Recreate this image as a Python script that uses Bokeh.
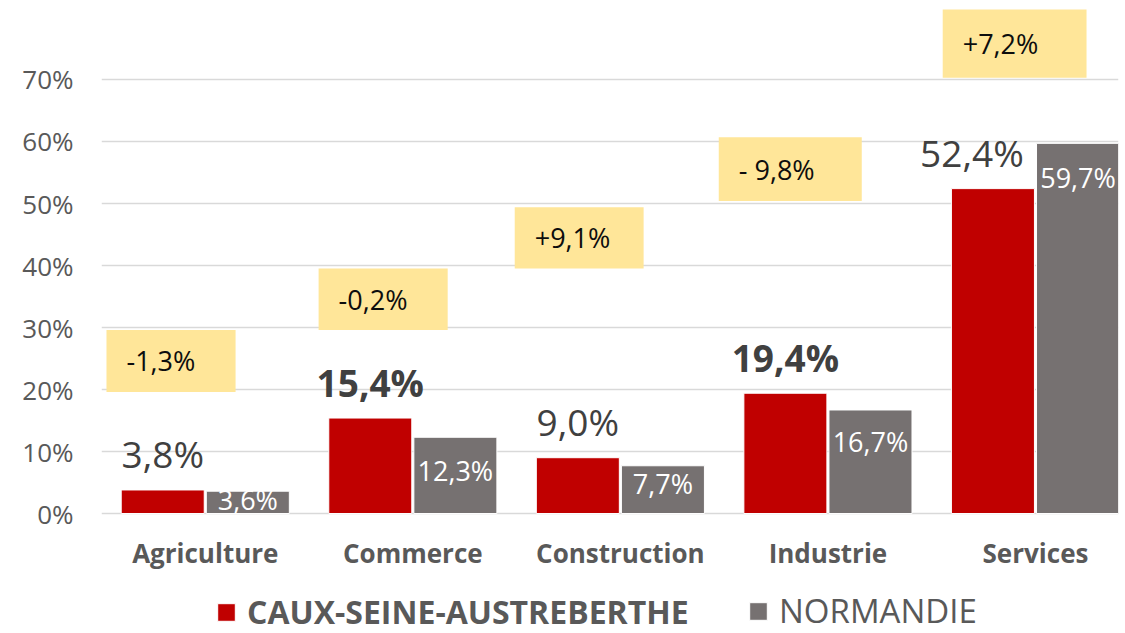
from bokeh.plotting import figure
from bokeh.models import (ColumnDataSource, FixedTicker, PrintfTickFormatter,
                          Legend, LegendItem, Range1d)
from bokeh.embed import file_html
from bokeh.resources import INLINE
from bokeh.core.properties import value

# ---------------- data ----------------
categories = ["Agriculture", "Commerce", "Construction", "Industrie", "Services"]
caux = [3.8, 15.4, 9.0, 19.4, 52.4]          # CAUX-SEINE-AUSTREBERTHE
normandie = [3.6, 12.3, 7.7, 16.7, 59.7]     # NORMANDIE
evolution = ["-1,3%", "-0,2%", "+9,1%", "- 9,8%", "+7,2%"]
y_ticks = [0, 10, 20, 30, 40, 50, 60, 70]

# ---------------- annotation layout ----------------
caux_bold = [False, True, False, True, False]
caux_label_dx = [0, 0, 0, 0, -21]            # px
norm_label_dy = [8, 33, 18, 32, 34]          # px, text centre below bar top
box_left = [-0.476, -0.454, -0.509, -0.526, -0.447]
box_right = [0.146, 0.168, 0.112, 0.163, 0.246]
box_bottom = [19.6, 29.6, 39.5, 50.4, 70.3]
box_top = [29.6, 39.5, 49.4, 60.7, 81.3]

FONT = "Open Sans"
RED = "#C00000"
GRAY = "#767171"
YELLOW = "#FFE699"
TXT = "#595959"


def fmt(v):
    return f"{v:.1f}".replace(".", ",") + "%"


idx = list(range(len(categories)))
src = ColumnDataSource(dict(
    x=idx,
    zero=[0] * len(idx),
    cat=categories,
    x_red=[i - 0.205 for i in idx],
    x_gray=[i + 0.205 for i in idx],
    caux=caux,
    norm=normandie,
    caux_txt=[fmt(v) for v in caux],
    norm_txt=[fmt(v) for v in normandie],
    caux_style=["bold" if b else "normal" for b in caux_bold],
    caux_dx=caux_label_dx,
    norm_dy=norm_label_dy,
    bl=[i + d for i, d in zip(idx, box_left)],
    br=[i + d for i, d in zip(idx, box_right)],
    bb=box_bottom,
    bt=box_top,
    bym=[(a + b) / 2 for a, b in zip(box_bottom, box_top)],
    evo=evolution,
))

# frame spans the whole canvas height; 0 % sits 120 px above the bottom
p = figure(width=1125, height=633,
           x_range=Range1d(-0.5, 4.4), y_range=Range1d(-19.35, 82.74),
           output_backend="svg", toolbar_location=None,
           x_axis_location=None,
           min_border_left=101, min_border_right=7,
           min_border_top=0, min_border_bottom=0)
p.outline_line_color = None
p.background_fill_color = "white"
p.border_fill_color = "white"

p.xgrid.visible = False
p.ygrid.grid_line_color = "#D9D9D9"
p.ygrid.grid_line_width = 1.5
p.ygrid.ticker = FixedTicker(ticks=y_ticks)

p.yaxis.ticker = FixedTicker(ticks=y_ticks)
p.yaxis.formatter = PrintfTickFormatter(format="%d%%")
p.yaxis.axis_line_color = None
p.yaxis.major_tick_line_color = None
p.yaxis.minor_tick_line_color = None
p.yaxis.major_label_standoff = 22
p.yaxis.major_label_text_font = FONT
p.yaxis.major_label_text_font_size = "26px"
p.yaxis.major_label_text_color = TXT

# category labels under the 0 % line
p.text(x="x", y="zero", text="cat", source=src, y_offset=39,
       text_font=value(FONT), text_font_size="26px", text_font_style="bold",
       text_color=TXT, text_align="center", text_baseline="middle")

# yellow evolution boxes
p.quad(left="bl", right="br", bottom="bb", top="bt", source=src,
       fill_color=YELLOW, line_color=None)
p.text(x="bl", y="bym", text="evo", source=src, x_offset=20,
       text_font=value(FONT), text_font_size="27px", text_color="#0D0D0D",
       text_align="left", text_baseline="middle")

# bars
r_red = p.vbar(x="x_red", top="caux", width=0.4, bottom=0, source=src,
               fill_color=RED, line_color="white", line_width=1)
r_gray = p.vbar(x="x_gray", top="norm", width=0.4, bottom=0, source=src,
                fill_color=GRAY, line_color="white", line_width=1)

# value labels
p.text(x="x_red", y="caux", text="caux_txt", source=src,
       x_offset="caux_dx", y_offset=-36,
       text_font=value(FONT), text_font_size="37px", text_color="#404040",
       text_font_style="caux_style",
       text_align="center", text_baseline="middle")
p.text(x="x_gray", y="norm", text="norm_txt", source=src,
       y_offset="norm_dy",
       text_font=value(FONT), text_font_size="27px", text_color="white",
       text_align="center", text_baseline="middle")

# legends (two, so that only the first label is bold)
common = dict(orientation="horizontal", glyph_width=22, glyph_height=22,
              label_standoff=10, label_height=22, padding=0, margin=0,
              spacing=0, border_line_color=None, background_fill_alpha=0,
              label_text_font=FONT, label_text_color=TXT)
leg1 = Legend(items=[LegendItem(label="CAUX-SEINE-AUSTREBERTHE", renderers=[r_red])],
              location=(114, 0), label_text_font_size="32px",
              label_text_font_style="bold", **common)
leg2 = Legend(items=[LegendItem(label="NORMANDIE", renderers=[r_gray])],
              location=(646, 0), label_text_font_size="33px", **common)
p.add_layout(leg1)
p.add_layout(leg2)

open("out.html", "w").write(file_html(p, INLINE))
